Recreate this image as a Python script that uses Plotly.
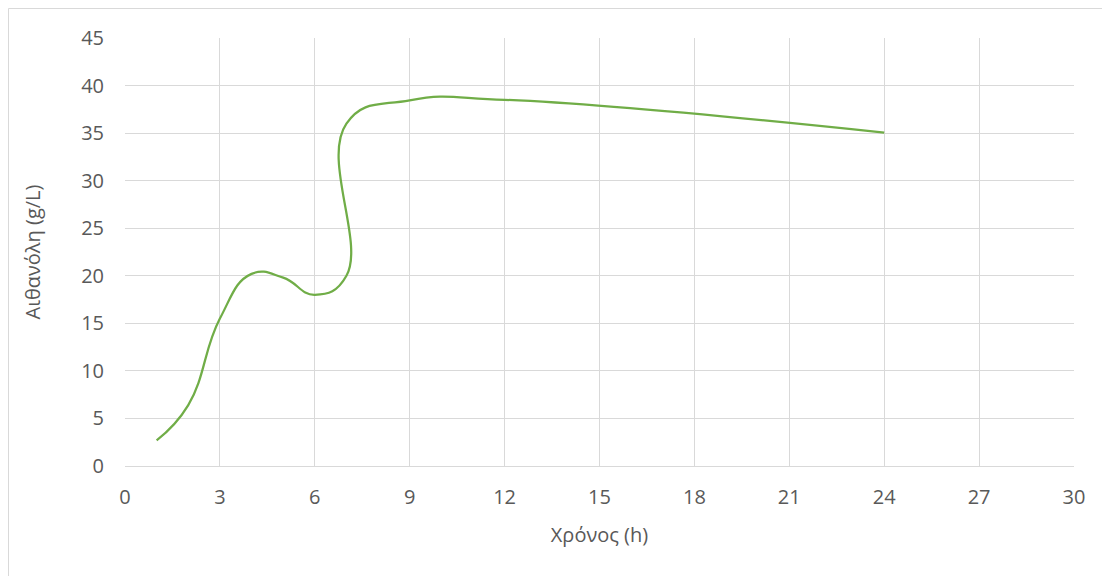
import plotly.graph_objects as go

time_h = [1, 2, 3, 4, 5, 6, 7, 7, 9, 12, 24]
ethanol = [2.7, 6.4, 15.5, 20.2, 19.8, 18.0, 20.0, 36.0, 38.45, 38.5, 35.05]

x_ticks = list(range(0, 31, 3))
y_ticks = list(range(0, 46, 5))

# figure sits at the page's 8px body margin
W, H = 1102, 568
L, T, PW, PH = 117, 30, 949, 428
fig = go.Figure()
fig.add_trace(go.Scatter(
    x=time_h, y=ethanol, mode="lines",
    line=dict(color="#70AD47", width=2.25, shape="spline", smoothing=1.3),
    showlegend=False,
))

font_family = "Open Sans, Liberation Sans, sans-serif"
fig.update_layout(
    width=W, height=H,
    margin=dict(l=L, r=W - L - PW, t=T, b=H - T - PH),
    paper_bgcolor="white", plot_bgcolor="white",
    font=dict(family=font_family, size=20, color="#595959"),
    xaxis=dict(
        range=[0, 30], tickvals=x_ticks, ticktext=[str(v) for v in x_ticks],
        showgrid=True, gridcolor="#D9D9D9", gridwidth=1,
        zeroline=False, showline=True, linecolor="#D9D9D9", linewidth=1,
        ticks="", ticklabelstandoff=13, automargin=False,
        title=dict(text="Χρόνος (h)", font=dict(size=20, color="#595959"), standoff=18),
    ),
    yaxis=dict(
        range=[0, 45], tickvals=y_ticks, ticktext=[str(v) for v in y_ticks],
        showgrid=True, gridcolor="#D9D9D9", gridwidth=1,
        zeroline=False, showline=False,
        ticks="", ticklabelstandoff=20, automargin=False,
        title=dict(text="Αιθανόλη (g/L)", font=dict(size=20, color="#595959"), standoff=35),
    ),
    shapes=[dict(
        type="rect", xref="paper", yref="paper",
        x0=(0.5 - L) / PW, x1=(W + 20 - L) / PW,
        y0=-(H + 20 - T - PH) / PH, y1=1 + (T - 0.5) / PH,
        line=dict(color="#D9D9D9", width=1), fillcolor="rgba(0,0,0,0)", layer="below",
    )],
)

fig.write_html("out.html")
